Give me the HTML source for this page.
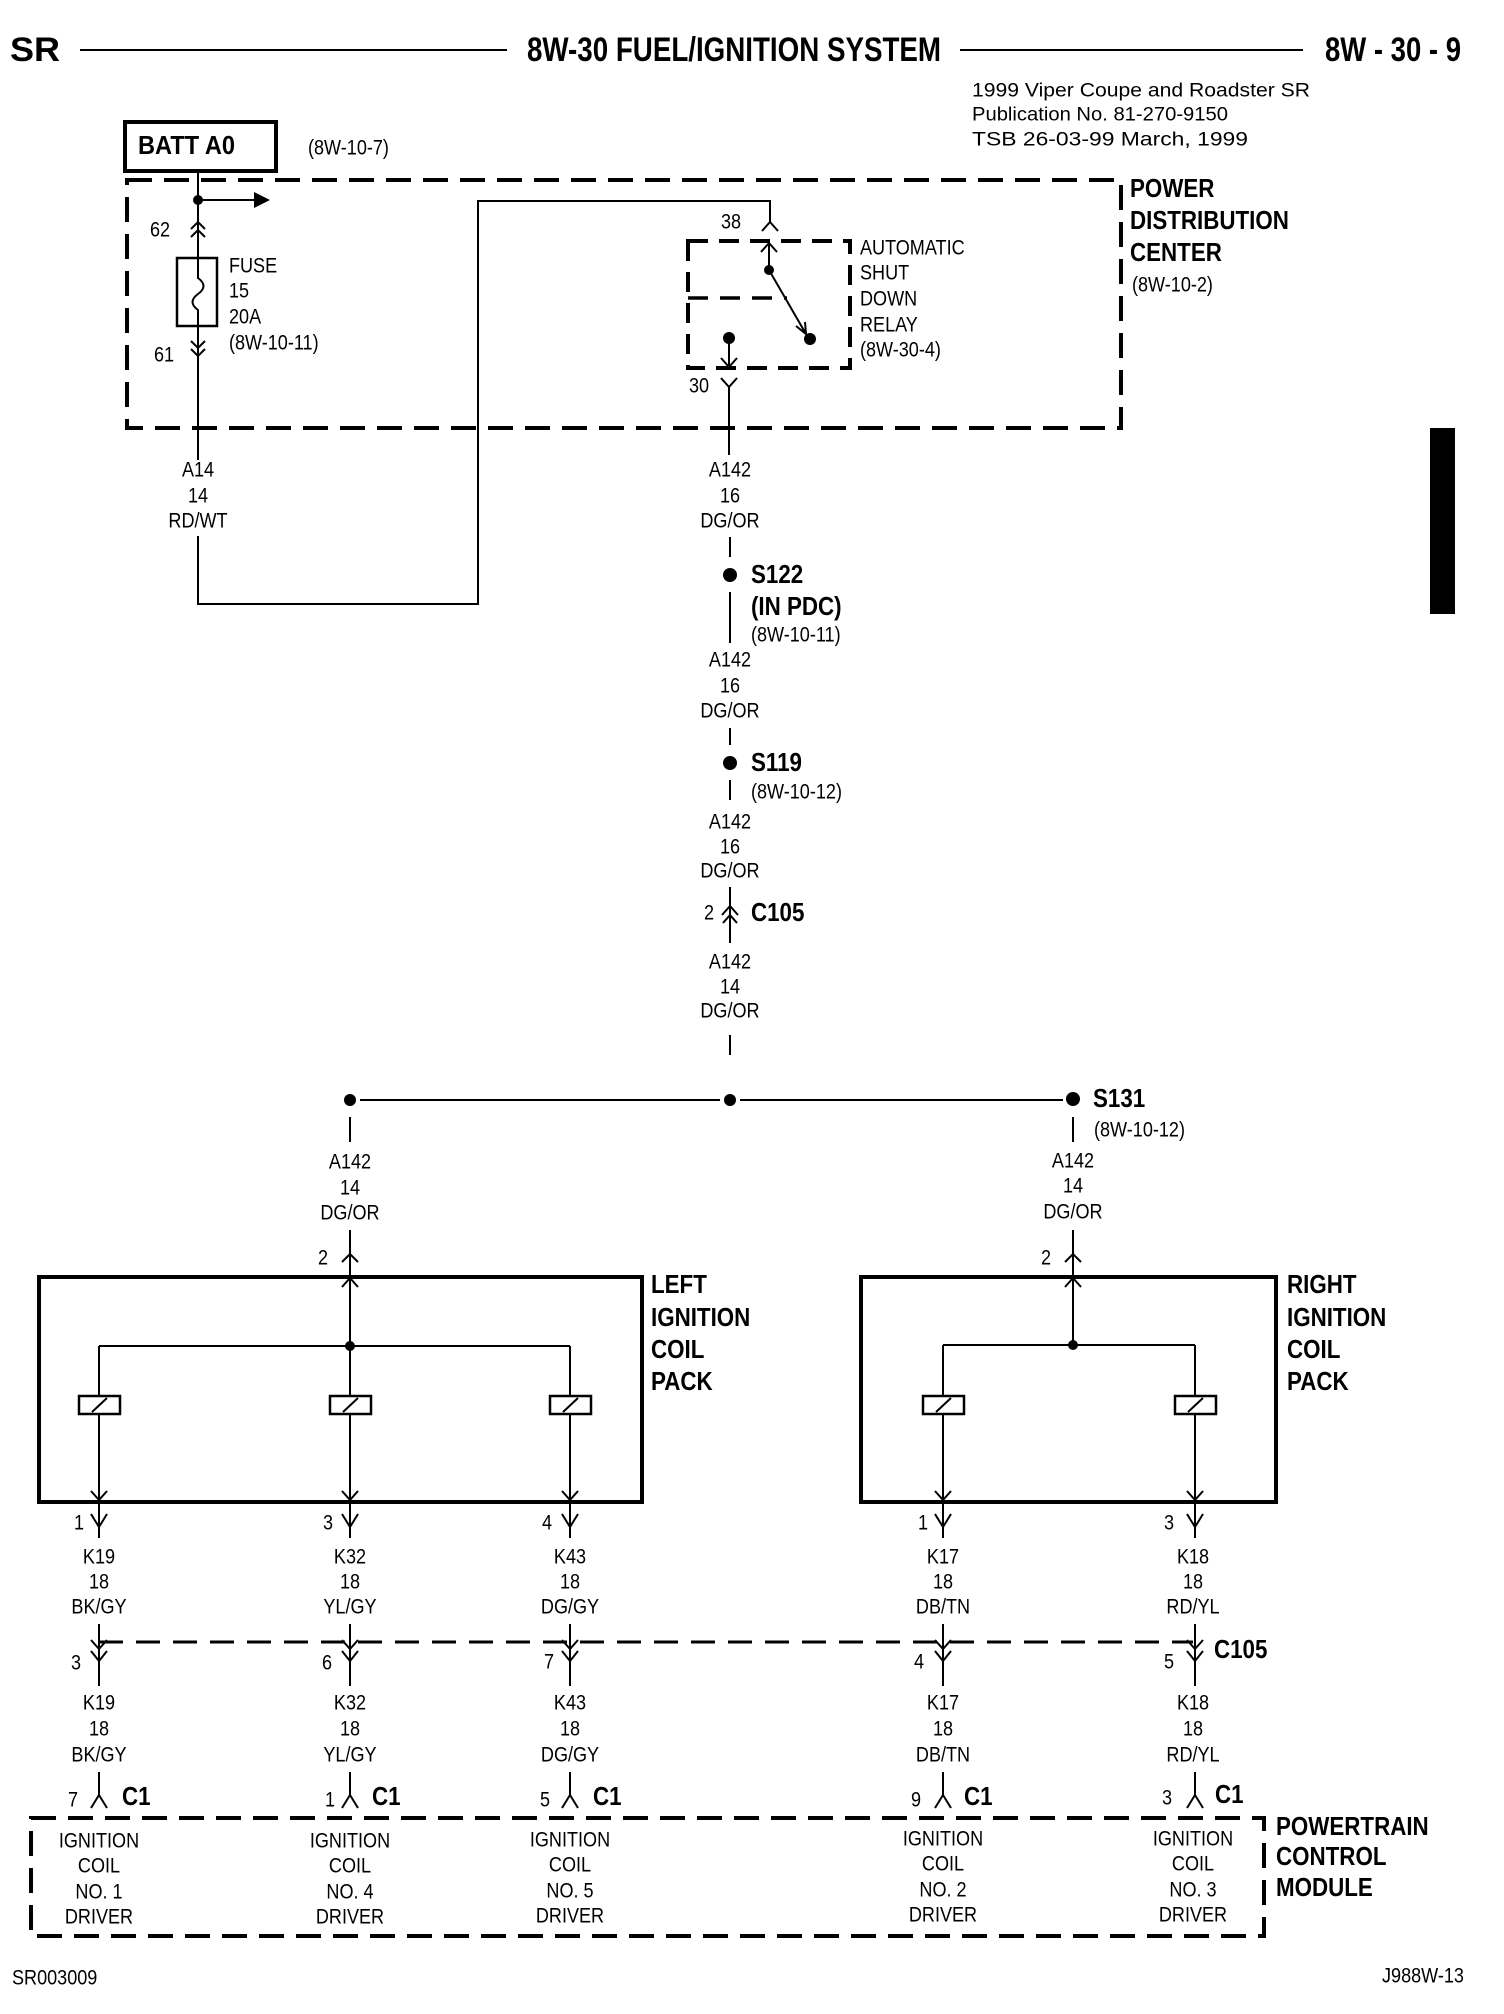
<!DOCTYPE html>
<html><head><meta charset="utf-8"><style>
html,body{margin:0;padding:0;background:#fff}
svg{display:block}
text{font-family:"Liberation Sans",Arial,sans-serif;fill:#000;dominant-baseline:central;transform-box:fill-box;transform-origin:left center;transform:scaleX(.86)}
.r{font-size:21px}
.c{text-anchor:middle;transform-origin:center center}
.b{font-weight:bold;font-size:26px}
.n{transform:none}
</style></head><body>
<svg width="1504" height="2014" viewBox="0 0 1504 2014" xmlns="http://www.w3.org/2000/svg">
<g stroke="#000" stroke-width="2" fill="none">
<line x1="80" y1="50" x2="507" y2="50"/>
<line x1="960" y1="50" x2="1303" y2="50"/>
<rect x="125" y="122" width="151" height="49" stroke-width="4"/>
<rect x="127" y="180" width="994" height="248" stroke-width="4" stroke-dasharray="25 12"/>
<!-- fuse -->
<path d="M198 171 V278 Q209 286 198 294 Q187 302 198 310 V460"/>
<rect x="177" y="258" width="40" height="68" stroke-width="2.5"/>
<line x1="198" y1="200" x2="256" y2="200"/>
<path d="M191 229 L198 222 L205 229 M191 237 L198 230 L205 237"/>
<path d="M191 341 L198 348 L205 341 M191 349 L198 356 L205 349"/>
<path d="M198 536 V604 H478 V201 H770 V223"/>
<path d="M762 231 L770 222 L778 231"/>
<!-- relay -->
<rect x="688" y="241" width="162" height="127" stroke-width="4" stroke-dasharray="20 11"/>
<line x1="688" y1="298" x2="787" y2="298" stroke-width="3.5" stroke-dasharray="20 12"/>
<line x1="769" y1="270" x2="769" y2="243"/>
<path d="M761 252 L769 243 L777 252"/>
<line x1="769" y1="270" x2="806" y2="334"/>
<path d="M796 326 L806 334 L805 322"/>
<line x1="729" y1="338" x2="729" y2="367"/>
<path d="M721 358 L729 367 L737 358"/>
<path d="M721 378 L729 387 L737 378 M729 387 V455"/>
<!-- main trunk -->
<line x1="730" y1="537" x2="730" y2="557"/>
<line x1="730" y1="592" x2="730" y2="643"/>
<line x1="730" y1="728" x2="730" y2="745"/>
<line x1="730" y1="780" x2="730" y2="800"/>
<line x1="730" y1="887" x2="730" y2="943"/>
<path d="M722 915 L730 906 L738 915 M723 923 L730 915 L737 923"/>
<line x1="730" y1="1035" x2="730" y2="1055"/>
<line x1="360" y1="1100" x2="720" y2="1100"/>
<line x1="740" y1="1100" x2="1063" y2="1100"/>
<line x1="350" y1="1117" x2="350" y2="1142"/>
<line x1="1073" y1="1117" x2="1073" y2="1142"/>
<!-- left pack -->
<line x1="350" y1="1230" x2="350" y2="1346"/>
<path d="M342 1262 L350 1254 L358 1262"/>
<path d="M342 1287 L350 1278 L358 1287"/>
<rect x="39" y="1277" width="603" height="225" stroke-width="4"/>
<line x1="99" y1="1346" x2="570" y2="1346"/>
<!-- right pack -->
<line x1="1073" y1="1230" x2="1073" y2="1345"/>
<path d="M1065 1262 L1073 1254 L1081 1262"/>
<path d="M1065 1287 L1073 1278 L1081 1287"/>
<rect x="861" y="1277" width="415" height="225" stroke-width="4"/>
<line x1="943" y1="1345" x2="1195" y2="1345"/>
<!-- C105 row -->
<line x1="99" y1="1642" x2="1193" y2="1642" stroke-width="3" stroke-dasharray="24 13"/>
<!-- PCM -->
<rect x="31" y="1818" width="1233" height="118" stroke-width="4" stroke-dasharray="25 12"/>
</g>
<g fill="#000">
<circle cx="198" cy="200" r="5"/>
<polygon points="254,192 270,200 254,208"/>
<circle cx="769" cy="270" r="5"/>
<circle cx="810" cy="339" r="6"/>
<circle cx="729" cy="338" r="6"/>
<circle cx="730" cy="575" r="7"/>
<circle cx="730" cy="763" r="7"/>
<circle cx="730" cy="1100" r="6"/>
<circle cx="350" cy="1100" r="6"/>
<circle cx="1073" cy="1099" r="7"/>
<circle cx="350" cy="1346" r="5"/>
<circle cx="1073" cy="1345" r="5"/>
<rect x="1430" y="428" width="25" height="186"/>
</g>

<g stroke="#000" stroke-width="2" fill="none">
<path d="M99 1346 V1396 M99 1414 V1500 M91 1491 L99 1500 L107 1491 M91 1514 L99 1527 L107 1514 M99 1500 V1538 M99 1624 V1650 M91 1640 L99 1649 L107 1640 M91 1651 L99 1661 L107 1651 M99 1650 V1686 M99 1772 V1795 M91 1808 L99 1795 L107 1808"/>
<rect x="79" y="1396" width="41" height="18" stroke-width="2.5"/><line x1="92" y1="1412" x2="107" y2="1398"/>
<path d="M350 1346 V1396 M350 1414 V1500 M342 1491 L350 1500 L358 1491 M342 1514 L350 1527 L358 1514 M350 1500 V1538 M350 1624 V1650 M342 1640 L350 1649 L358 1640 M342 1651 L350 1661 L358 1651 M350 1650 V1686 M350 1772 V1795 M342 1808 L350 1795 L358 1808"/>
<rect x="330" y="1396" width="41" height="18" stroke-width="2.5"/><line x1="343" y1="1412" x2="358" y2="1398"/>
<path d="M570 1346 V1396 M570 1414 V1500 M562 1491 L570 1500 L578 1491 M562 1514 L570 1527 L578 1514 M570 1500 V1538 M570 1624 V1650 M562 1640 L570 1649 L578 1640 M562 1651 L570 1661 L578 1651 M570 1650 V1686 M570 1772 V1795 M562 1808 L570 1795 L578 1808"/>
<rect x="550" y="1396" width="41" height="18" stroke-width="2.5"/><line x1="563" y1="1412" x2="578" y2="1398"/>
<path d="M943 1345 V1396 M943 1414 V1500 M935 1491 L943 1500 L951 1491 M935 1514 L943 1527 L951 1514 M943 1500 V1538 M943 1624 V1650 M935 1640 L943 1649 L951 1640 M935 1651 L943 1661 L951 1651 M943 1650 V1686 M943 1772 V1795 M935 1808 L943 1795 L951 1808"/>
<rect x="923" y="1396" width="41" height="18" stroke-width="2.5"/><line x1="936" y1="1412" x2="951" y2="1398"/>
<path d="M1195 1345 V1396 M1195 1414 V1500 M1187 1491 L1195 1500 L1203 1491 M1187 1514 L1195 1527 L1203 1514 M1195 1500 V1538 M1195 1624 V1650 M1187 1640 L1195 1649 L1203 1640 M1187 1651 L1195 1661 L1203 1651 M1195 1650 V1686 M1195 1772 V1795 M1187 1808 L1195 1795 L1203 1808"/>
<rect x="1175" y="1396" width="41" height="18" stroke-width="2.5"/><line x1="1188" y1="1412" x2="1203" y2="1398"/>
</g>

<text class="n" x="10" y="50" font-weight="bold" font-size="34" textLength="50" lengthAdjust="spacingAndGlyphs">SR</text>
<text class="n" x="527" y="50" font-weight="bold" font-size="34" textLength="414" lengthAdjust="spacingAndGlyphs">8W-30 FUEL/IGNITION SYSTEM</text>
<text class="n" x="1325" y="50" font-weight="bold" font-size="34" textLength="136" lengthAdjust="spacingAndGlyphs">8W - 30 - 9</text>
<text class="n" x="972" y="91" font-size="19" textLength="338" lengthAdjust="spacingAndGlyphs">1999 Viper Coupe and Roadster   SR</text>
<text class="n" x="972" y="115" font-size="19" textLength="256" lengthAdjust="spacingAndGlyphs">Publication No. 81-270-9150</text>
<text class="n" x="972" y="140" font-size="19" textLength="276" lengthAdjust="spacingAndGlyphs">TSB 26-03-99      March, 1999</text>

<text class="b n" x="138" y="145" textLength="97" lengthAdjust="spacingAndGlyphs">BATT A0</text>
<text class="r" x="308" y="148">(8W-10-7)</text>
<text class="r" x="150" y="230">62</text>
<text class="r" x="154" y="355">61</text>
<text class="r" x="229" y="266">FUSE</text>
<text class="r" x="229" y="291">15</text>
<text class="r" x="229" y="317">20A</text>
<text class="r" x="229" y="343">(8W-10-11)</text>
<text class="r" x="721" y="222">38</text>
<text class="r" x="689" y="386">30</text>
<text class="r" x="860" y="248">AUTOMATIC</text>
<text class="r" x="860" y="273">SHUT</text>
<text class="r" x="860" y="299">DOWN</text>
<text class="r" x="860" y="325">RELAY</text>
<text class="r" x="860" y="350">(8W-30-4)</text>
<text class="b" x="1130" y="189">POWER</text>
<text class="b" x="1130" y="221">DISTRIBUTION</text>
<text class="b" x="1130" y="253">CENTER</text>
<text class="r" x="1132" y="285">(8W-10-2)</text>

<text class="r c" x="198" y="470">A14</text><text class="r c" x="198" y="496">14</text><text class="r c" x="198" y="521">RD/WT</text>
<text class="r c" x="730" y="470">A142</text><text class="r c" x="730" y="496">16</text><text class="r c" x="730" y="521">DG/OR</text>
<text class="r c" x="730" y="660">A142</text><text class="r c" x="730" y="686">16</text><text class="r c" x="730" y="711">DG/OR</text>
<text class="r c" x="730" y="822">A142</text><text class="r c" x="730" y="847">16</text><text class="r c" x="730" y="871">DG/OR</text>
<text class="r c" x="730" y="962">A142</text><text class="r c" x="730" y="987">14</text><text class="r c" x="730" y="1011">DG/OR</text>
<text class="r c" x="350" y="1162">A142</text><text class="r c" x="350" y="1188">14</text><text class="r c" x="350" y="1213">DG/OR</text>
<text class="r c" x="1073" y="1161">A142</text><text class="r c" x="1073" y="1186">14</text><text class="r c" x="1073" y="1212">DG/OR</text>
<text class="b" x="751" y="575">S122</text>
<text class="b" x="751" y="607">(IN PDC)</text>
<text class="r" x="751" y="635">(8W-10-11)</text>
<text class="b" x="751" y="763">S119</text>
<text class="r" x="751" y="792">(8W-10-12)</text>
<text class="r" x="704" y="913">2</text>
<text class="b" x="751" y="913">C105</text>
<text class="b" x="1093" y="1099">S131</text>
<text class="r" x="1094" y="1130">(8W-10-12)</text>
<text class="r" x="318" y="1258">2</text>
<text class="r" x="1041" y="1258">2</text>

<text class="b" x="651" y="1285">LEFT</text>
<text class="b" x="651" y="1318">IGNITION</text>
<text class="b" x="651" y="1350">COIL</text>
<text class="b" x="651" y="1382">PACK</text>
<text class="b" x="1287" y="1285">RIGHT</text>
<text class="b" x="1287" y="1318">IGNITION</text>
<text class="b" x="1287" y="1350">COIL</text>
<text class="b" x="1287" y="1382">PACK</text>

<text class="r" x="74" y="1523">1</text><text class="r" x="323" y="1523">3</text><text class="r" x="542" y="1523">4</text><text class="r" x="918" y="1523">1</text><text class="r" x="1164" y="1523">3</text>
<text class="r c" x="99" y="1557">K19</text><text class="r c" x="99" y="1582">18</text><text class="r c" x="99" y="1607">BK/GY</text>
<text class="r c" x="350" y="1557">K32</text><text class="r c" x="350" y="1582">18</text><text class="r c" x="350" y="1607">YL/GY</text>
<text class="r c" x="570" y="1557">K43</text><text class="r c" x="570" y="1582">18</text><text class="r c" x="570" y="1607">DG/GY</text>
<text class="r c" x="943" y="1557">K17</text><text class="r c" x="943" y="1582">18</text><text class="r c" x="943" y="1607">DB/TN</text>
<text class="r c" x="1193" y="1557">K18</text><text class="r c" x="1193" y="1582">18</text><text class="r c" x="1193" y="1607">RD/YL</text>
<text class="r" x="71" y="1663">3</text><text class="r" x="322" y="1663">6</text><text class="r" x="544" y="1662">7</text><text class="r" x="914" y="1662">4</text><text class="r" x="1164" y="1662">5</text>
<text class="b" x="1214" y="1650">C105</text>
<text class="r c" x="99" y="1703">K19</text><text class="r c" x="99" y="1729">18</text><text class="r c" x="99" y="1755">BK/GY</text>
<text class="r c" x="350" y="1703">K32</text><text class="r c" x="350" y="1729">18</text><text class="r c" x="350" y="1755">YL/GY</text>
<text class="r c" x="570" y="1703">K43</text><text class="r c" x="570" y="1729">18</text><text class="r c" x="570" y="1755">DG/GY</text>
<text class="r c" x="943" y="1703">K17</text><text class="r c" x="943" y="1729">18</text><text class="r c" x="943" y="1755">DB/TN</text>
<text class="r c" x="1193" y="1703">K18</text><text class="r c" x="1193" y="1729">18</text><text class="r c" x="1193" y="1755">RD/YL</text>
<text class="r" x="68" y="1800">7</text><text class="b" x="122" y="1797">C1</text>
<text class="r" x="325" y="1800">1</text><text class="b" x="372" y="1797">C1</text>
<text class="r" x="540" y="1800">5</text><text class="b" x="593" y="1797">C1</text>
<text class="r" x="911" y="1800">9</text><text class="b" x="964" y="1797">C1</text>
<text class="r" x="1162" y="1798">3</text><text class="b" x="1215" y="1795">C1</text>

<text class="r c" x="99" y="1841">IGNITION</text><text class="r c" x="99" y="1866">COIL</text><text class="r c" x="99" y="1892">NO. 1</text><text class="r c" x="99" y="1917">DRIVER</text>
<text class="r c" x="350" y="1841">IGNITION</text><text class="r c" x="350" y="1866">COIL</text><text class="r c" x="350" y="1892">NO. 4</text><text class="r c" x="350" y="1917">DRIVER</text>
<text class="r c" x="570" y="1840">IGNITION</text><text class="r c" x="570" y="1865">COIL</text><text class="r c" x="570" y="1891">NO. 5</text><text class="r c" x="570" y="1916">DRIVER</text>
<text class="r c" x="943" y="1839">IGNITION</text><text class="r c" x="943" y="1864">COIL</text><text class="r c" x="943" y="1890">NO. 2</text><text class="r c" x="943" y="1915">DRIVER</text>
<text class="r c" x="1193" y="1839">IGNITION</text><text class="r c" x="1193" y="1864">COIL</text><text class="r c" x="1193" y="1890">NO. 3</text><text class="r c" x="1193" y="1915">DRIVER</text>
<text class="b" x="1276" y="1827">POWERTRAIN</text>
<text class="b" x="1276" y="1857">CONTROL</text>
<text class="b" x="1276" y="1888">MODULE</text>
<text class="r" x="12" y="1978">SR003009</text>
<text class="r" x="1382" y="1976">J988W-13</text>
</svg>
</body></html>
